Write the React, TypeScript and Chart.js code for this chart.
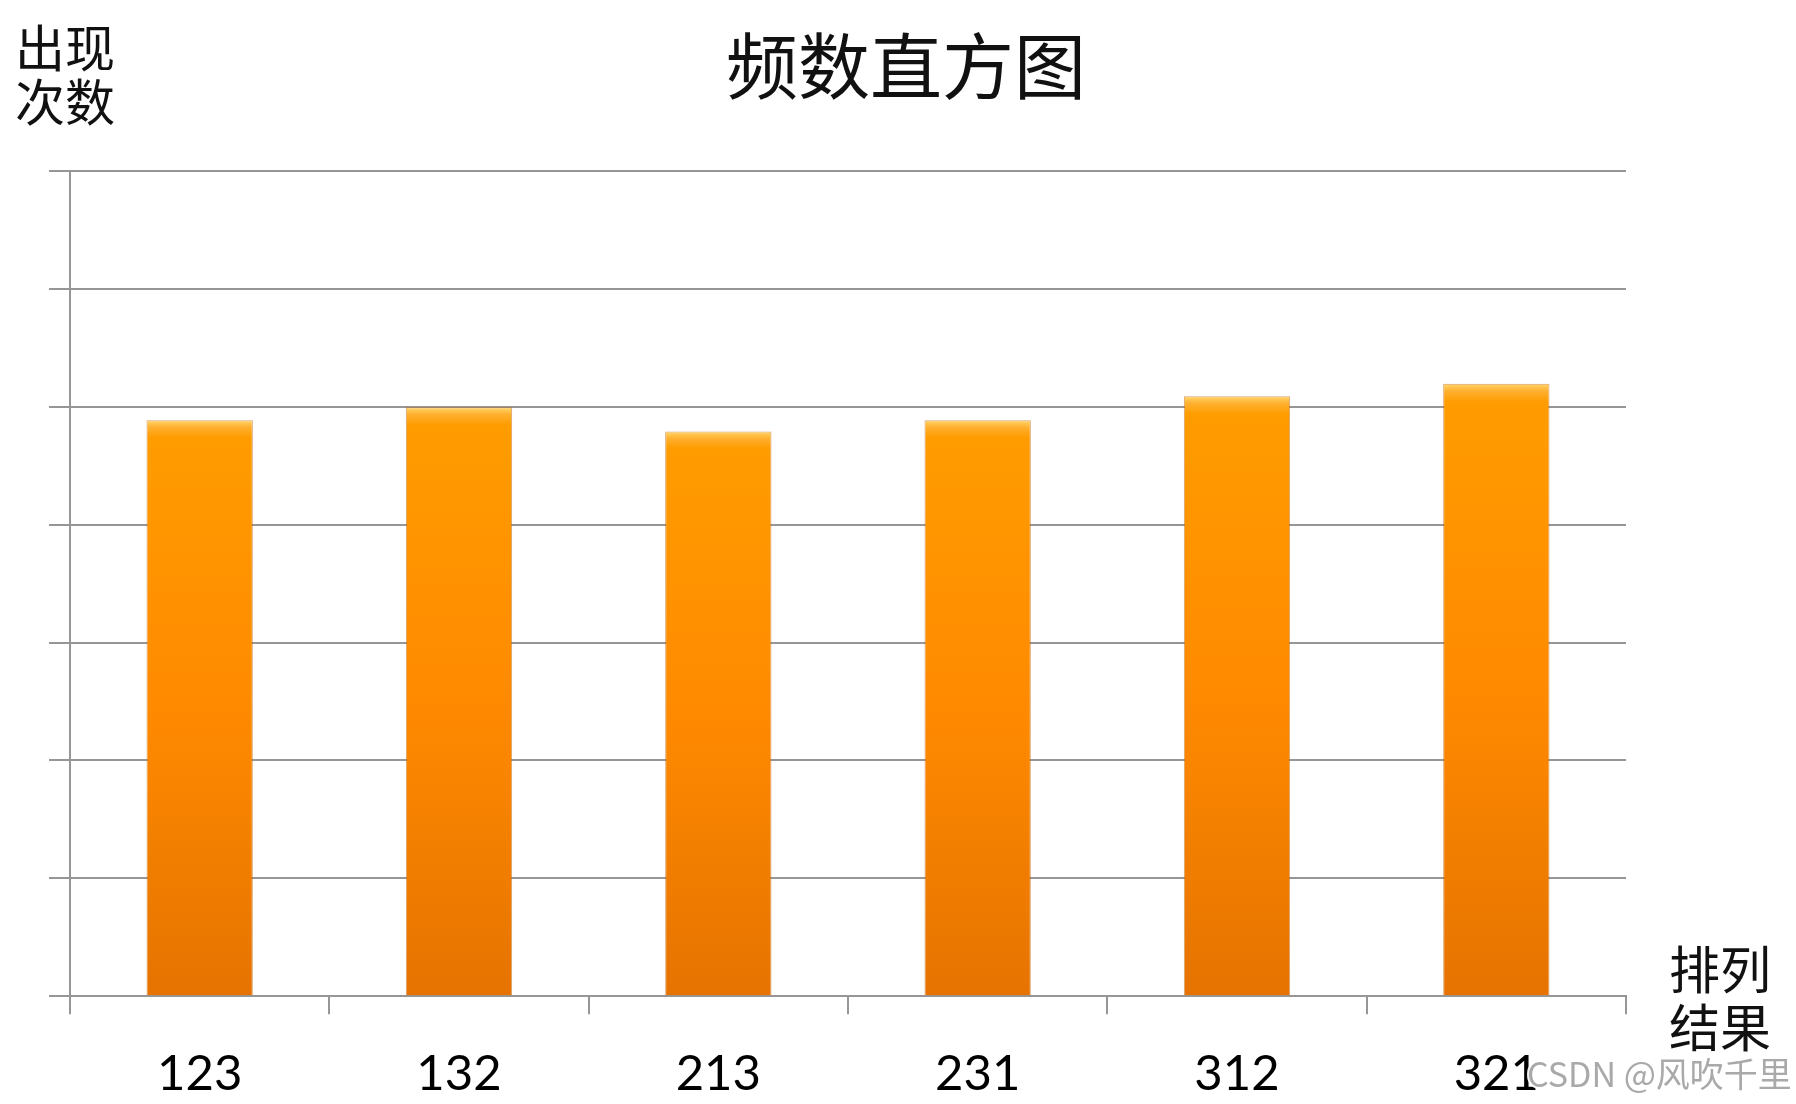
import React, { useEffect, useRef } from "react";
import { Chart, registerables } from "chart.js";

Chart.register(...registerables);

const categories = ["123", "132", "213", "231", "312", "321"];
const counts = [977, 999, 958, 977, 1018, 1039];
const yMax = 1400;
const yStep = 200;

const chartTitle = "频数直方图";
const yTitleLines = ["出现", "次数"];
const xTitleLines = ["排列", "结果"];
const watermark = "CSDN @风吹千里";

const CJK = '"Noto Sans CJK SC", "Noto Sans", sans-serif';
const GRID = "#969696";

const textPlugin = {
  id: "freeText",
  afterDraw(chart: Chart) {
    const { ctx, chartArea } = chart;
    ctx.save();
    ctx.fillStyle = "#111";
    ctx.textBaseline = "middle";

    // title
    ctx.textAlign = "center";
    ctx.font = `400 72px ${CJK}`;
    ctx.fillText(chartTitle, 906, 66);

    // y axis title, top left
    ctx.textAlign = "left";
    ctx.font = `400 50px ${CJK}`;
    yTitleLines.forEach((t, i) => ctx.fillText(t, 15, 48 + i * 54));

    // x axis title, bottom right
    ctx.font = `400 51px ${CJK}`;
    xTitleLines.forEach((t, i) =>
      ctx.fillText(t, chartArea.right + 43, 970 + i * 58)
    );

    // watermark
    ctx.font = `400 34px ${CJK}`;
    ctx.lineWidth = 4;
    ctx.strokeStyle = "rgba(255,255,255,0.9)";
    ctx.strokeText(watermark, 1527, 1074);
    ctx.fillStyle = "rgba(160,160,160,0.9)";
    ctx.fillText(watermark, 1527, 1074);
    ctx.restore();
  },
};

export default function App() {
  const canvasRef = useRef<HTMLCanvasElement>(null);

  useEffect(() => {
    document.body.style.margin = "0";
    if (!canvasRef.current) return;

    const chart = new Chart(canvasRef.current, {
      type: "bar",
      data: {
        labels: categories,
        datasets: [
          {
            data: counts,
            categoryPercentage: 1,
            barPercentage: 0.41,
            borderWidth: 1,
            borderColor: "rgba(190,95,0,0.6)",
            backgroundColor: (c: any) => {
              const ch = c.chart;
              if (!ch.chartArea || c.type !== "data") return "#FF8A00";
              const ys = ch.scales.y;
              const top = ys.getPixelForValue(c.raw as number);
              const base = ys.getPixelForValue(0);
              const g = ch.ctx.createLinearGradient(0, top, 0, base);
              g.addColorStop(0, "#FFD66A");
              g.addColorStop(0.012, "#FFB030");
              g.addColorStop(0.03, "#FF9C00");
              g.addColorStop(0.5, "#FF8A00");
              g.addColorStop(1, "#E67300");
              return g;
            },
          },
        ],
      },
      options: {
        responsive: false,
        maintainAspectRatio: false,
        animation: false,
        layout: { padding: { left: 49, right: 170, top: 171, bottom: 5 } },
        plugins: {
          legend: { display: false },
          title: { display: false },
          tooltip: { enabled: false },
        },
        scales: {
          x: {
            offset: true,
            grid: {
              offset: true,
              drawOnChartArea: false,
              drawTicks: true,
              tickLength: 18,
              color: GRID,
              lineWidth: 2,
            },
            border: { display: true, color: GRID, width: 2 },
            ticks: {
              color: "#000",
              padding: 31,
              font: { family: "Lato, 'Open Sans', sans-serif", size: 49 },
            },
          },
          y: {
            min: 0,
            max: yMax,
            ticks: { display: false, stepSize: yStep },
            grid: { color: GRID, lineWidth: 2, tickLength: 21 },
            border: { display: true, color: GRID, width: 2 },
          },
        },
      },
      plugins: [textPlugin],
    });

    return () => chart.destroy();
  }, []);

  return (
    <div
      style={{
        width: 1796,
        height: 1104,
        overflow: "hidden",
        position: "relative",
        background: "#fff",
      }}
    >
      <canvas ref={canvasRef} width={1796} height={1140} />
    </div>
  );
}
